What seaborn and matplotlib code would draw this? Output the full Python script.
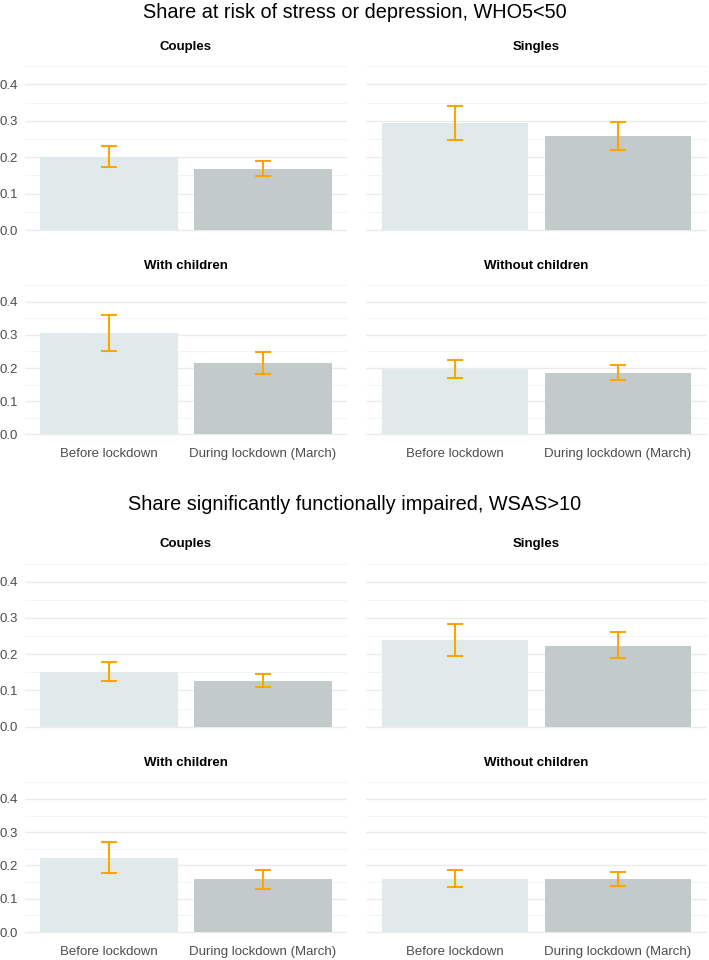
import pandas as pd
import matplotlib
matplotlib.use("Agg")
import matplotlib.pyplot as plt
import seaborn as sns
from matplotlib.ticker import MultipleLocator

# chart data
section_titles = ["Share at risk of stress or depression, WHO5<50",
                  "Share significantly functionally impaired, WSAS>10"]
groups = ["Couples", "Singles", "With children", "Without children"]
periods = ["Before lockdown", "During lockdown (March)"]

who5_before = [0.201, 0.293, 0.305, 0.198]
who5_during = [0.168, 0.257, 0.215, 0.185]
who5_before_lo = [0.174, 0.247, 0.252, 0.170]
who5_before_hi = [0.231, 0.341, 0.360, 0.223]
who5_during_lo = [0.148, 0.221, 0.183, 0.163]
who5_during_hi = [0.190, 0.297, 0.249, 0.208]

wsas_before = [0.151, 0.239, 0.223, 0.158]
wsas_during = [0.127, 0.224, 0.158, 0.158]
wsas_before_lo = [0.126, 0.196, 0.176, 0.135]
wsas_before_hi = [0.178, 0.284, 0.271, 0.185]
wsas_during_lo = [0.110, 0.189, 0.130, 0.138]
wsas_during_hi = [0.146, 0.262, 0.187, 0.181]

y_ticks = [0.0, 0.1, 0.2, 0.3, 0.4]

# long table
rows = []
measures = [
    (section_titles[0], who5_before, who5_during, who5_before_lo, who5_before_hi, who5_during_lo, who5_during_hi),
    (section_titles[1], wsas_before, wsas_during, wsas_before_lo, wsas_before_hi, wsas_during_lo, wsas_during_hi),
]
for sec, b, d, blo, bhi, dlo, dhi in measures:
    for i, g in enumerate(groups):
        rows.append(dict(section=sec, group=g, period=periods[0], value=b[i], lo=blo[i], hi=bhi[i]))
        rows.append(dict(section=sec, group=g, period=periods[1], value=d[i], lo=dlo[i], hi=dhi[i]))
df = pd.DataFrame(rows)

sns.set_theme(style="white")
plt.rcParams["font.family"] = ["Liberation Sans", "DejaVu Sans"]

W, H = 709, 960
fig = plt.figure(figsize=(W / 100, H / 100), dpi=100)

bar_colors = {periods[0]: "#dfeceb", periods[1]: "#c1cccb"}
cols_px = [(25, 347), (366, 707)]
rows_px = [[(62.6, 234.4), (281.8, 438.3)], [(560, 731), (779, 936)]]
title_y = [13, 505]

for s, sec in enumerate(section_titles):
    fig.text(0.5, 1 - title_y[s] / H, sec, ha="center", va="center",
             fontsize=14.3, color="black")
    for gi, g in enumerate(groups):
        r, c = divmod(gi, 2)
        top, bot = rows_px[s][r]
        x0, x1 = cols_px[c]
        ax = fig.add_axes([x0 / W, 1 - bot / H, (x1 - x0) / W, (bot - top) / H])
        sub = df[(df.section == sec) & (df.group == g)]
        sns.barplot(data=sub, x="period", y="value", hue="period", order=periods,
                    hue_order=periods, palette=bar_colors, width=0.9,
                    linewidth=0, legend=False, ax=ax, zorder=2)
        xs = [periods.index(p) for p in sub.period]
        ax.errorbar(xs, sub.value, yerr=[sub.value - sub.lo, sub.hi - sub.value],
                    fmt="none", ecolor="#FFA500", elinewidth=1.5, capsize=5.8,
                    capthick=1.5, zorder=3)
        ax.set_xlim(-0.55, 1.55)
        ax.set_ylim(-0.012, 0.46)
        ax.yaxis.set_major_locator(MultipleLocator(0.1))
        ax.yaxis.set_minor_locator(MultipleLocator(0.05))
        ax.grid(axis="y", which="major", color="#ebebeb", linewidth=1.0, zorder=0)
        ax.grid(axis="y", which="minor", color="#f3f3f3", linewidth=0.6, zorder=0)
        ax.grid(axis="x", visible=False)
        ax.set_axisbelow(True)
        for sp in ax.spines.values():
            sp.set_visible(False)
        ax.set_xlabel("")
        ax.set_ylabel("")
        ax.set_title(g, fontsize=9.5, fontweight="bold", pad=9, color="black")
        ax.tick_params(axis="both", length=0, labelsize=9.5, labelcolor="#4d4d4d")
        ax.tick_params(axis="y", pad=5)
        ax.tick_params(axis="x", pad=7)
        ax.set_yticks(y_ticks)
        if c == 0:
            ax.set_yticklabels([f"{t:.1f}" for t in y_ticks])
        else:
            ax.set_yticklabels([])
        if r == 0:
            ax.set_xticklabels([])

fig.savefig("out.png", dpi=100, facecolor="white")
